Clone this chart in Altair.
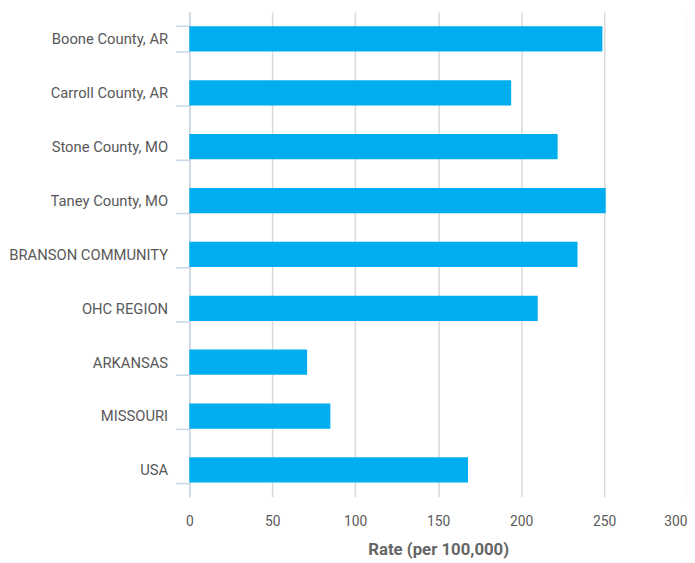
import altair as alt
import pandas as pd

categories = ["Boone County, AR", "Carroll County, AR", "Stone County, MO", "Taney County, MO",
              "BRANSON COMMUNITY", "OHC REGION", "ARKANSAS", "MISSOURI", "USA"]
rates = [249, 194, 222, 251, 234, 210, 71, 85, 168]

df = pd.DataFrame({"area": categories, "rate": rates})

FONT = "Roboto"

chart = alt.Chart(df).mark_bar(color="#00AEEF").encode(
    x=alt.X("rate:Q", title="Rate (per 100,000)",
            scale=alt.Scale(domain=[0, 300], nice=False),
            axis=alt.Axis(values=[0, 50, 100, 150, 200, 250, 300], domain=False, ticks=False,
                          tickSize=0, labelPadding=18, labelFontSize=14, labelColor="#595959",
                          labelFont=FONT, labelFlush=False,
                          labelAlign=alt.expr("datum.value === 300 ? 'right' : 'center'"),
                          grid=True, gridColor="#d9d9d9", gridWidth=1.5,
                          titleFont=FONT, titleFontSize=17, titleFontWeight="bold",
                          titleColor="#666666", titlePadding=13)),
    y=alt.Y("area:N", sort=None, title=None,
            scale=alt.Scale(paddingInner=0.53, paddingOuter=0.265),
            axis=alt.Axis(tickBand="extent", domainColor="#c8d6e8", domainWidth=1.5,
                          tickColor="#c8d6e8", tickWidth=1.5, tickSize=14, labelPadding=8,
                          labelFontSize=15, labelColor="#595959", labelFont=FONT, grid=False)),
).properties(
    width=505, height=492,
    autosize=alt.AutoSizeParams(type="none"),
    padding={"left": 184, "top": 0, "right": 0, "bottom": 60},
).configure_view(stroke=None)

chart.save("out.html", embed_options={"renderer": "svg", "actions": False})
